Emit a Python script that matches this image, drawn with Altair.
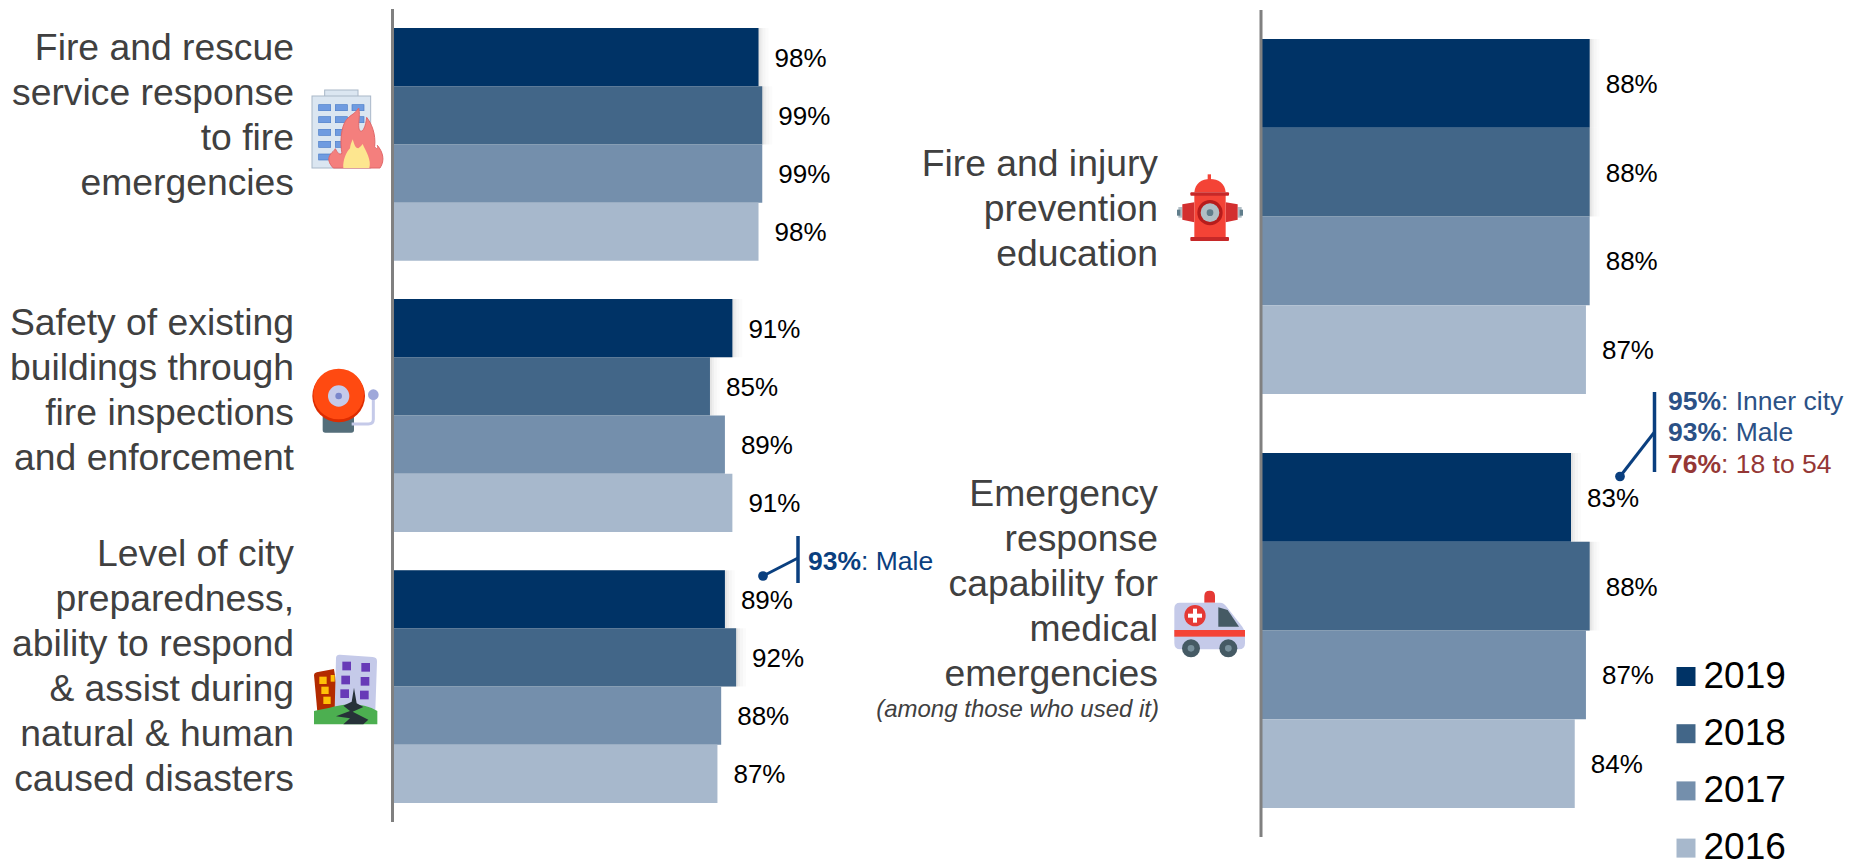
import base64

import altair as alt
import pandas as pd

FONT = "Liberation Sans"

# Survey results: share of respondents rating each service positively
years = ["2019", "2018", "2017", "2016"]
year_colors = ["#003366", "#426688", "#748FAC", "#A7B8CC"]

left_groups = ["response", "safety", "preparedness"]
left_values = {
    "response": [98, 99, 99, 98],
    "safety": [91, 85, 89, 91],
    "preparedness": [89, 92, 88, 87],
}
right_groups = ["prevention", "medical"]
right_values = {
    "prevention": [88, 88, 88, 87],
    "medical": [83, 88, 87, 84],
}

left_captions = [
    "Fire and rescue\nservice response\nto fire\nemergencies",
    "Safety of existing\nbuildings through\nfire inspections\nand enforcement",
    "Level of city\npreparedness,\nability to respond\n& assist during\nnatural & human\ncaused disasters",
]
right_captions = [
    "Fire and injury\nprevention\neducation",
    "Emergency\nresponse\ncapability for\nmedical\nemergencies",
]


def frame(groups, values):
    rows = []
    for g in groups:
        for y, v in zip(years, values[g]):
            rows.append({"group": g, "year": y, "value": v, "label": f"{v}%"})
    return pd.DataFrame(rows)


def panel(groups, values, x_range, y_range, pad_inner, pad_outer):
    df = frame(groups, values)
    x = alt.X("value:Q", axis=None, stack=None,
              scale=alt.Scale(domain=[0, 100], range=x_range, nice=False, zero=True))
    y = alt.Y("group:N", axis=None, sort=groups,
              scale=alt.Scale(domain=groups, range=y_range,
                              paddingInner=pad_inner, paddingOuter=pad_outer))
    y_off = alt.YOffset("year:N", sort=years,
                        scale=alt.Scale(domain=years, paddingInner=0, paddingOuter=0))
    base = alt.Chart(df).encode(x=x, y=y, yOffset=y_off)

    # Soft drop shadow to the right of the two most recent years
    shadow_years = alt.FieldOneOfPredicate(field="year", oneOf=years[:2])
    shadows = [
        base.transform_filter(shadow_years)
        .mark_bar(color="#000000", opacity=op, xOffset=off)
        for off, op in [(10, 0.015), (7, 0.02), (4, 0.03), (2, 0.04)]
    ]
    bars = base.mark_bar(opacity=1).encode(
        color=alt.Color(
            "year:N",
            scale=alt.Scale(domain=years, range=year_colors),
            legend=alt.Legend(
                orient="none", legendX=1667.5, legendY=658, title=None,
                symbolType="square", symbolSize=361, symbolStrokeWidth=0,
                symbolOpacity=1, labelFont=FONT, labelFontSize=37,
                labelColor="#000000", labelOffset={"expr": "-1"},
                rowPadding=19.2, padding=0,
            ),
        )
    )
    labels = base.mark_text(
        align="left", baseline="middle", dx=16, dy=1.5, font=FONT, fontSize=26, color="#000000"
    ).encode(text="label:N")
    axis_line = alt.Chart(pd.DataFrame({"zero": [0]})).mark_rule(
        color="#808080", strokeWidth=3
    ).encode(
        x=alt.X("zero:Q", axis=None),
        y=alt.value(y_range[0]),
        y2=alt.value(y_range[1]),
    )
    return alt.layer(*shadows, bars, labels, axis_line)


def caption(text, x, y, size=37.3, color="#404040", **kw):
    return alt.Chart(pd.DataFrame({"t": [text]})).mark_text(
        align="right", baseline="middle", font=FONT, fontSize=size, color=color,
        lineBreak="\n", lineHeight=45, **kw
    ).encode(x=alt.value(x), y=alt.value(y), text="t:N")


def callout(bold, rest, x, y, color):
    one = pd.DataFrame({"t": [bold], "r": [rest]})
    return [
        alt.Chart(one).mark_text(
            align="left", baseline="middle", font=FONT, fontSize=26.5,
            fontWeight="bold", color=color
        ).encode(x=alt.value(x), y=alt.value(y), text="t:N"),
        alt.Chart(one).mark_text(
            align="left", baseline="middle", font=FONT, fontSize=26.5, color=color
        ).encode(x=alt.value(x + 53), y=alt.value(y), text="r:N"),
    ]


def leader(dot_x, dot_y, end_x, end_y, bar_top, bar_bottom, color):
    one = pd.DataFrame({"a": [0]})
    return [
        alt.Chart(one).mark_rule(color=color, strokeWidth=3.5).encode(
            x=alt.value(end_x), y=alt.value(bar_top), y2=alt.value(bar_bottom)
        ),
        alt.Chart(one).mark_rule(color=color, strokeWidth=3).encode(
            x=alt.value(dot_x), x2=alt.value(end_x),
            y=alt.value(dot_y), y2=alt.value(end_y),
        ),
        alt.Chart(one).mark_circle(color=color, opacity=1, size=95).encode(
            x=alt.value(dot_x), y=alt.value(dot_y)
        ),
    ]


# Pictograms next to the service names
BUILDING_FIRE = """
<rect x="74" y="30" width="100" height="22" fill="#dbe6f1" stroke="#a9b8c8" stroke-width="3"/>
<rect x="36" y="48" width="176" height="216" fill="#dbe6f1" stroke="#a9b8c8" stroke-width="3"/>
<g fill="#6f9be0" stroke="#4a7cc8" stroke-width="2">
<rect x="56" y="74" width="36" height="18"/><rect x="106" y="74" width="36" height="18"/><rect x="156" y="74" width="36" height="18"/>
<rect x="56" y="110" width="36" height="18"/><rect x="106" y="110" width="36" height="18"/><rect x="156" y="110" width="36" height="18"/>
<rect x="56" y="148" width="36" height="18"/><rect x="106" y="148" width="36" height="18"/>
<rect x="56" y="184" width="36" height="18"/><rect x="106" y="184" width="36" height="18"/>
<rect x="56" y="222" width="36" height="18"/>
</g>
<path d="M100,264 C86,250 82,235 92,222 C96,216 104,212 106,206 C112,218 118,226 126,220 C120,190 122,140 140,118 C152,104 168,100 176,84 C182,110 172,135 178,150 C184,160 196,150 200,112 C214,130 228,160 224,200 C230,210 236,205 232,196 C248,215 256,240 240,264 Z" fill="#f47f7d" stroke="#e0686a" stroke-width="3"/>
<path d="M130,264 C128,240 140,215 150,205 C152,190 156,185 158,178 C162,190 165,205 175,205 C182,200 186,195 188,192 C198,215 215,240 208,264 Z" fill="#fde68f"/>
"""
ALARM_BELL = """
<rect x="68" y="165" width="94" height="53" rx="8" fill="#546e7a"/>
<path d="M155,192 H205 Q220,192 220,178 V105" fill="none" stroke="#c5cae9" stroke-width="9"/>
<circle cx="220" cy="104" r="16" fill="#9fa8da"/>
<circle cx="116" cy="108" r="79" fill="#dd2c00"/>
<circle cx="116" cy="102" r="76" fill="#ff4a11"/>
<circle cx="116" cy="108" r="32" fill="#c5cae9"/>
<circle cx="116" cy="108" r="10" fill="#7986cb"/>
"""
QUAKE = """
<path d="M42,90 Q42,84 50,82 L102,72 L120,190 L52,200 Z" fill="#b32b00"/>
<g fill="#ffc107"><rect x="58" y="95" width="22" height="22"/><rect x="92" y="90" width="12" height="20"/><rect x="64" y="125" width="22" height="22"/><rect x="70" y="155" width="22" height="22"/></g>
<path d="M108,40 Q108,28 120,29 L218,36 Q232,37 231,50 L226,195 L104,195 Z" fill="#c5cae9"/>
<g fill="#673ab7"><rect x="127" y="50" width="26" height="26"/><rect x="184" y="54" width="26" height="26"/><rect x="124" y="92" width="26" height="26"/><rect x="182" y="96" width="26" height="26"/><rect x="121" y="133" width="26" height="26"/><rect x="180" y="137" width="26" height="26"/></g>
<path d="M42,198 C90,190 120,178 150,178 C185,178 210,185 232,198 V238 H42 Z" fill="#4caf50"/>
<path d="M162,128 L170,175 L190,186 L158,200 L205,224 L190,238 L130,238 L150,220 L108,214 L150,198 L130,182 L155,170 Z" fill="#263238"/>
"""
HYDRANT = """
<rect x="128" y="28" width="10" height="18" fill="#f44336"/>
<path d="M88,82 C90,55 110,42 135,42 C160,42 180,55 182,82 Z" fill="#f44336"/>
<rect x="40" y="126" width="12" height="32" fill="#b0bec5"/><rect x="218" y="126" width="12" height="32" fill="#b0bec5"/>
<rect x="36" y="134" width="10" height="18" fill="#607d8b"/><rect x="224" y="134" width="10" height="18" fill="#607d8b"/>
<path d="M52,118 L88,112 V172 L52,164 Z" fill="#d32f2f"/><path d="M218,118 L182,112 V172 L218,164 Z" fill="#d32f2f"/>
<rect x="88" y="90" width="94" height="128" fill="#f44336"/>
<rect x="76" y="82" width="116" height="10" rx="3" fill="#c62828"/>
<rect x="76" y="216" width="116" height="12" rx="3" fill="#c62828"/>
<circle cx="135" cy="143" r="38" fill="#b71c1c"/>
<circle cx="135" cy="143" r="28" fill="#b0bec5"/>
<circle cx="135" cy="143" r="10" fill="#607d8b"/>
"""
AMBULANCE = """
<path d="M118,68 V48 Q118,32 134,32 Q150,32 150,48 V68 Z" fill="#e53935"/>
<path d="M28,85 Q28,68 45,68 H165 Q178,68 186,82 L232,140 Q240,150 240,165 V190 Q240,208 222,208 H46 Q28,208 28,190 Z" fill="#c5cae9"/>
<circle cx="90" cy="107" r="32" fill="#e53935"/>
<rect x="84" y="86" width="12" height="42" fill="#ffffff"/><rect x="69" y="101" width="42" height="12" fill="#ffffff"/>
<path d="M160,82 L188,90 L222,140 H160 Z" fill="#455a64"/>
<rect x="28" y="150" width="212" height="20" fill="#f44336"/>
<circle cx="78" cy="205" r="27" fill="#455a64"/><circle cx="78" cy="205" r="10" fill="#78909c"/>
<circle cx="190" cy="205" r="27" fill="#455a64"/><circle cx="190" cy="205" r="10" fill="#78909c"/>
"""


def icon(body, x, y, size):
    box = 3 * size
    svg = (f'<svg xmlns="http://www.w3.org/2000/svg" width="{box}" height="{box}" '
           f'viewBox="0 0 {box} {box}">{body}</svg>')
    uri = "data:image/svg+xml;base64," + base64.b64encode(svg.encode()).decode()
    return alt.Chart(pd.DataFrame({"u": [uri]})).mark_image(
        width=size, height=size, align="left", baseline="top"
    ).encode(url="u:N", x=alt.value(x), y=alt.value(y))


left = panel(left_groups, left_values, [392.5, 766.0], [9.0, 822.0], 0.141, 0.07)
right = panel(right_groups, right_values, [1261.0, 1634.5], [10.0, 837.0], 0.143, 0.07)

decor = [
    caption(left_captions[0], 294, 49),
    caption(left_captions[1], 294, 324),
    caption(left_captions[2], 294, 554.5),
    caption(right_captions[0], 1158, 164.5),
    caption(right_captions[1], 1158, 495),
    caption("(among those who used it)", 1159, 710, size=24, fontStyle="italic"),
    icon(BUILDING_FIRE, 300, 80, 100),
    icon(ALARM_BELL, 300, 360, 100),
    icon(QUAKE, 300, 645, 100),
    icon(HYDRANT, 1165, 165, 90),
    icon(AMBULANCE, 1165, 580, 90),
    *leader(763, 576, 798, 558, 536, 583, "#0a3f7f"),
    *callout("93%", ": Male", 808, 562, "#0a3f7f"),
    *leader(1620, 476.5, 1654.5, 432, 392, 472, "#0a3f7f"),
    *callout("95%", ": Inner city", 1668, 402, "#2b5186"),
    *callout("93%", ": Male", 1668, 433, "#2b5186"),
    *callout("76%", ": 18 to 54", 1668, 465, "#953735"),
]

chart = (
    alt.layer(left, right, *decor)
    .resolve_scale(x="independent", y="independent", yOffset="independent")
    .properties(
        width=1862, height=862, padding=0, background="#ffffff",
        autosize=alt.AutoSizeParams(type="none"),
    )
    .configure_view(stroke=None)
)

chart.save("out.html", embed_options={"renderer": "svg", "actions": False})
